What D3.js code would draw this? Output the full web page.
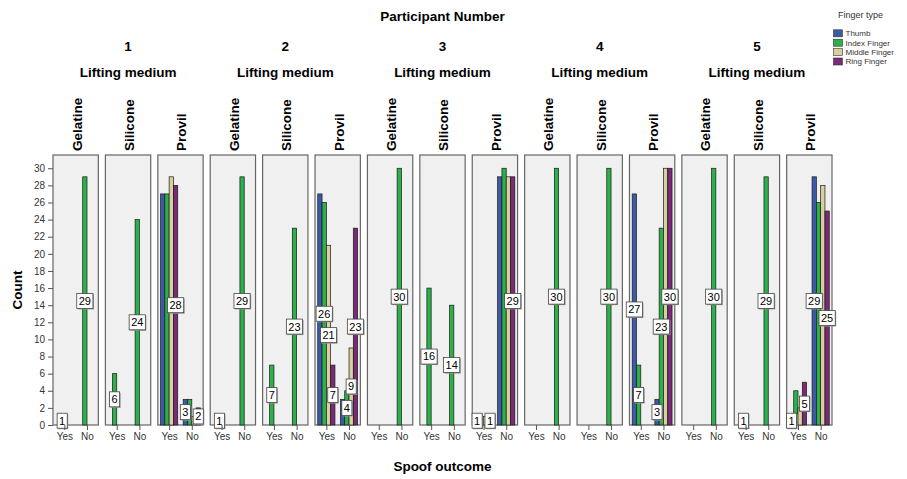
<!DOCTYPE html>
<html>
<head>
<meta charset="utf-8">
<script src="https://cdn.jsdelivr.net/npm/d3@7"></script>
<style>
  body { margin: 0; background: #fff; }
  text { font-family: Arial, "Liberation Sans", sans-serif; }
</style>
</head>
<body>
<svg id="chart" width="907" height="479"></svg>
<script>
const participants = ['1', '2', '3', '4', '5']
const mediums = ['Gelatine', 'Silicone', 'Provil']
const outcomes = ['Yes', 'No']
const fingers = ['Thumb', 'Index Finger', 'Middle Finger', 'Ring Finger']
const fingerColors = ['#3d5aa9', '#2bb04a', '#d8d09e', '#7b2a78']
const yTicks = [0, 2, 4, 6, 8, 10, 12, 14, 16, 18, 20, 22, 24, 26, 28, 30]

// counts per participant as [Yes, No]
const gelatineIndex = [[1, 29], [1, 29], [0, 30], [0, 30], [0, 30]]
const siliconeIndex = [[6, 24], [7, 23], [16, 14], [0, 30], [1, 29]]
const provilThumb = [[27, 3], [27, 3], [1, 29], [27, 3], [1, 29]]
const provilIndex = [[27, 3], [26, 4], [0, 30], [7, 23], [4, 26]]
const provilMiddle = [[29, 1], [21, 9], [1, 29], [0, 30], [2, 28]]
const provilRing = [[28, 2], [7, 23], [1, 29], [0, 30], [5, 25]]

const series = {
  Gelatine: { 'Index Finger': gelatineIndex },
  Silicone: { 'Index Finger': siliconeIndex },
  Provil: {
    'Thumb': provilThumb, 'Index Finger': provilIndex,
    'Middle Finger': provilMiddle, 'Ring Finger': provilRing
  }
}

// flatten to one row per bar
const rows = []
participants.forEach((p, pi) => {
  mediums.forEach(m => {
    outcomes.forEach((o, oi) => {
      fingers.forEach(f => {
        const s = series[m][f]
        if (s) rows.push({ p, m, o, f, value: s[pi][oi] })
      })
    })
  })
})

const svg = d3.select('#chart')
const panelKeys = participants.flatMap(p => mediums.map(m => `${p}|${m}`))

const panelX = d3.scaleBand().domain(panelKeys).range([53, 832]).paddingInner(0.135)
const outX = d3.scalePoint().domain(outcomes).range([0, panelX.bandwidth()]).padding(0.5)
const fingerX = d3.scaleBand().domain(fingers).range([-8.6, 8.6])
const colorScale = d3.scaleOrdinal().domain(fingers).range(fingerColors)
const y = d3.scaleLinear().domain([0, 31.55]).range([425, 155])

const barX = d => panelX(`${d.p}|${d.m}`) + outX(d.o) + fingerX(d.f)
const barCx = d => barX(d) + fingerX.bandwidth() / 2

// Panels
svg.append('g').selectAll('rect').data(panelKeys).join('rect')
  .attr('x', d => panelX(d))
  .attr('y', y.range()[1])
  .attr('width', panelX.bandwidth())
  .attr('height', y.range()[0] - y.range()[1])
  .attr('fill', '#f0f0f0')
  .attr('stroke', '#666')
  .attr('stroke-width', 1.2)

// Panel headers (rotated medium names)
svg.append('g').selectAll('text').data(panelKeys).join('text')
  .attr('transform', d => `translate(${panelX(d) + panelX.bandwidth() / 2 + 1},151) rotate(-90)`)
  .attr('dy', '0.36em')
  .style('font-size', '13.5px')
  .style('font-weight', 'bold')
  .text(d => d.split('|')[1])

// Participant and "Lifting medium" headers
participants.forEach(p => {
  const x0 = panelX(`${p}|Gelatine`)
  const x1 = panelX(`${p}|Provil`) + panelX.bandwidth()
  const cx = (x0 + x1) / 2
  svg.append('text').attr('x', cx).attr('y', 51)
    .attr('text-anchor', 'middle')
    .style('font-size', '13.5px').style('font-weight', 'bold')
    .text(p)
  svg.append('text').attr('x', cx).attr('y', 77)
    .attr('text-anchor', 'middle')
    .style('font-size', '13.5px').style('font-weight', 'bold')
    .text('Lifting medium')
})

svg.append('text').attr('x', 442.5).attr('y', 21)
  .attr('text-anchor', 'middle')
  .style('font-size', '13.5px').style('font-weight', 'bold')
  .text('Participant Number')

// Bars
svg.append('g').selectAll('rect').data(rows.filter(d => d.value > 0)).join('rect')
  .attr('x', barX)
  .attr('y', d => y(d.value))
  .attr('width', fingerX.bandwidth())
  .attr('height', d => y(0) - y(d.value))
  .attr('fill', d => colorScale(d.f))
  .attr('stroke', '#1a1a1a')
  .attr('stroke-width', 0.7)

// Data labels: placed from the last bar backwards, skipping ones that collide
const placed = []
const labelRows = rows.filter(d => d.value > 0).slice().reverse()
labelRows.forEach(d => {
  const w = String(d.value).length * 6.1 + 4
  const h = 15
  const box = { x: barCx(d) - w / 2, y: y(d.value / 2) - h / 2, w, h }
  const hit = placed.some(b => box.x < b.x + b.w && b.x < box.x + box.w &&
                               box.y < b.y + b.h && b.y < box.y + box.h)
  if (!hit) placed.push(Object.assign(box, { d }))
})

const labels = svg.append('g').selectAll('g').data(placed).join('g')
labels.append('rect')
  .attr('x', b => b.x + 1).attr('y', b => b.y + 1)
  .attr('width', b => b.w).attr('height', b => b.h)
  .attr('fill', '#999')
labels.append('rect')
  .attr('x', b => b.x).attr('y', b => b.y)
  .attr('width', b => b.w).attr('height', b => b.h)
  .attr('fill', '#fff')
  .attr('stroke', '#444')
  .attr('stroke-width', 0.8)
labels.append('text')
  .attr('x', b => b.x + b.w / 2)
  .attr('y', b => b.y + b.h / 2)
  .attr('dy', '0.36em')
  .attr('text-anchor', 'middle')
  .style('font-size', '11px')
  .text(b => b.d.value)

// Y axis
const yAxis = svg.append('g')
  .attr('transform', `translate(${panelX.range()[0]},0)`)
  .call(d3.axisLeft(y).tickValues(yTicks).tickSize(5).tickPadding(3))
yAxis.select('.domain').remove()
yAxis.selectAll('line').attr('stroke', '#555')
yAxis.selectAll('text').style('font-size', '10px').attr('fill', '#333')

svg.append('text')
  .attr('transform', 'translate(22,290) rotate(-90)')
  .attr('text-anchor', 'middle')
  .style('font-size', '13.5px').style('font-weight', 'bold')
  .text('Count')

// X axis per panel
panelKeys.forEach(k => {
  const ax = svg.append('g')
    .attr('transform', `translate(${panelX(k)},${y(0)})`)
    .call(d3.axisBottom(outX).tickSize(5).tickPadding(3))
  ax.select('.domain').remove()
  ax.selectAll('line').attr('stroke', '#555')
  ax.selectAll('text').style('font-size', '10px').attr('fill', '#333')
})

svg.append('text').attr('x', 442.5).attr('y', 471)
  .attr('text-anchor', 'middle')
  .style('font-size', '13.5px').style('font-weight', 'bold')
  .text('Spoof outcome')

// Legend
const legend = svg.append('g')
legend.append('text').attr('x', 838).attr('y', 18)
  .style('font-size', '9px').attr('fill', '#333')
  .text('Finger type')
const items = legend.selectAll('g.item').data(fingers).join('g')
  .attr('class', 'item')
  .attr('transform', (d, i) => `translate(833,${33.3 + i * 9.4})`)
items.append('rect')
  .attr('x', 0.5).attr('y', -3.5).attr('width', 9).attr('height', 7)
  .attr('fill', d => colorScale(d))
  .attr('stroke', '#333').attr('stroke-width', 0.6)
items.append('text')
  .attr('x', 12.5).attr('dy', '0.35em')
  .style('font-size', '8px').attr('fill', '#333')
  .text(d => d)
</script>
</body>
</html>
